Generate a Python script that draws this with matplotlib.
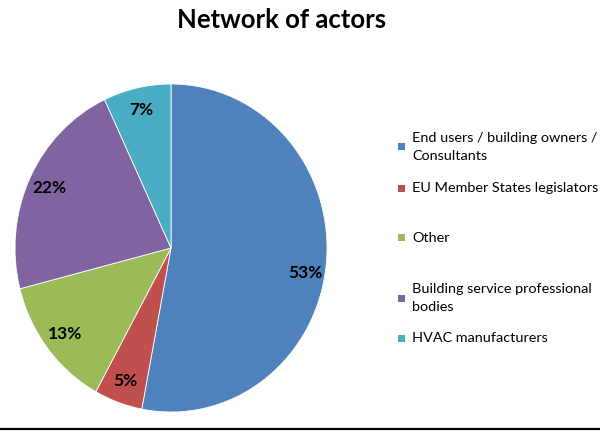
import matplotlib
matplotlib.use("Agg")
import matplotlib.pyplot as plt
from matplotlib.lines import Line2D
from matplotlib.patches import Rectangle

# data
actors = ["End users / building owners /\nConsultants",
          "EU Member States legislators",
          "Other",
          "Building service professional\nbodies",
          "HVAC manufacturers"]
shares = [53, 5, 13, 22, 7]
colors = ["#4F81BD", "#C0504D", "#9BBB59", "#8064A2", "#4BACC6"]

W, H = 600, 433
fig = plt.figure(figsize=(W / 100, H / 100), dpi=100)
plt.rcParams['font.family'] = ['Lato', 'DejaVu Sans']

# pie area in pixels: x 15..327, y 84..412 (from top)
ax = fig.add_axes([15 / W, (H - 412) / H, 312 / W, 328 / H])
wedges, texts, autotexts = ax.pie(
    shares, colors=colors, startangle=90, counterclock=False,
    autopct=lambda p: f"{p:.0f}%", pctdistance=0.86,
    wedgeprops=dict(edgecolor="white", linewidth=0.6),
    textprops=dict(fontsize=12.5, fontweight="bold", color="black"))
ax.set_aspect("auto")
ax.set_xlim(-1, 1)
ax.set_ylim(-1, 1)
# the big slice label sits a little lower in the original
autotexts[0].set_position((0.86, -0.15))

fig.text(282 / W, 1 - 20 / H, "Network of actors", ha="center", va="center",
         fontsize=18.5, fontweight="bold")

# legend drawn by hand to keep the uneven row spacing of the original
legend_y = [147, 188, 238, 298, 338]
for label, col, y in zip(actors, colors, legend_y):
    fig.patches.append(Rectangle((398 / W, 1 - (y + 3.5) / H), 7 / W, 7 / H,
                                 transform=fig.transFigure, facecolor=col,
                                 edgecolor="none"))
    fig.text(412 / W, 1 - y / H, label, ha="left", va="center", fontsize=10.4,
             linespacing=1.55)

fig.add_artist(Line2D([0, 1], [1 - 429 / H, 1 - 429 / H], color="black",
                      linewidth=1.6, transform=fig.transFigure))

fig.savefig("out.png", dpi=100)
